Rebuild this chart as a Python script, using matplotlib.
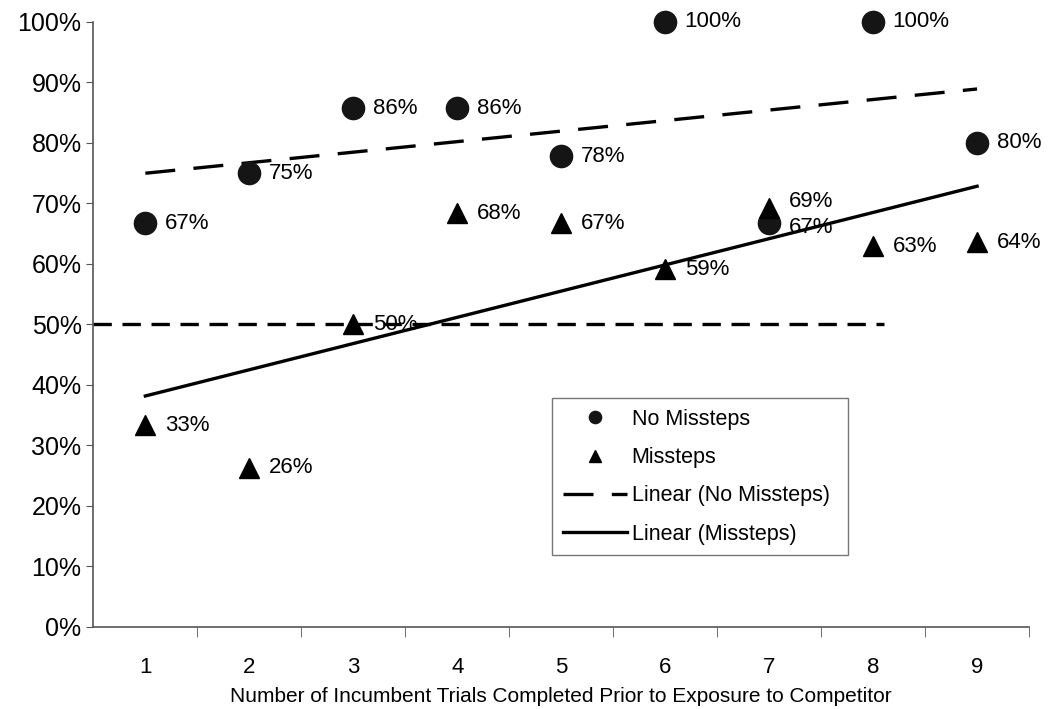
import matplotlib.pyplot as plt
import numpy as np
from matplotlib.ticker import FuncFormatter, FixedLocator

plt.rcParams['font.family'] = ['Liberation Sans', 'DejaVu Sans']

trials = [1, 2, 3, 4, 5, 6, 7, 8, 9]
no_missteps = [66.7, 75.0, 85.7, 85.7, 77.8, 100.0, 66.7, 100.0, 80.0]
missteps = [33.3, 26.3, 50.0, 68.4, 66.7, 59.1, 69.2, 62.9, 63.6]
ref_level = 50
ref_end = 8.1

fig = plt.figure(figsize=(10.49, 7.09), dpi=100)
ax = fig.add_axes([0.089, 0.116, 0.892, 0.853])

x = np.array(trials)
ax.plot(x, no_missteps, linestyle='none', marker='o', markersize=16,
        color='#151515', label='No Missteps', zorder=3, clip_on=False)
ax.plot(x, missteps, linestyle='none', marker='^', markersize=15,
        color='#000000', label='Missteps', zorder=3, clip_on=False)

# trendlines
p1 = np.polyfit(x, no_missteps, 1)
p2 = np.polyfit(x, missteps, 1)
ax.plot(x, np.polyval(p1, x), color='black', lw=2.4, dashes=(9, 5.5),
        label='Linear (No Missteps)', zorder=2)
ax.plot(x, np.polyval(p2, x), color='black', lw=2.4,
        label='Linear (Missteps)', zorder=2)

# 50% reference line
ax.plot([0.5, ref_end], [ref_level, ref_level], color='black', lw=2.4,
        dashes=(5.5, 3.2), zorder=2)

for xi, v in zip(trials, no_missteps):
    dy = -3 if xi == 7 else 0
    ax.annotate(f'{v:.0f}%', (xi, v), xytext=(14, dy), textcoords='offset points',
                va='center', ha='left', fontsize=16, annotation_clip=False)
for xi, v in zip(trials, missteps):
    dy = 5 if xi == 7 else 0
    ax.annotate(f'{v:.0f}%', (xi, v), xytext=(14, dy), textcoords='offset points',
                va='center', ha='left', fontsize=16, annotation_clip=False)

ax.set_xlim(0.5, 9.5)
ax.set_ylim(0, 100)
ax.set_yticks(np.arange(0, 101, 10))
ax.yaxis.set_major_formatter(FuncFormatter(lambda v, p: f'{v:.0f}%'))
ax.tick_params(axis='y', labelsize=18, length=5, direction='out', color='#555555')

ax.set_xticks(trials)
ax.set_xticklabels([str(t) for t in trials], fontsize=16)
ax.xaxis.set_minor_locator(FixedLocator(np.arange(1.5, 9.6, 1)))
ax.tick_params(axis='x', which='major', length=0, pad=22)
ax.tick_params(axis='x', which='minor', length=7, direction='out', color='#555555')
ax.set_xlabel('Number of Incumbent Trials Completed Prior to Exposure to Competitor',
              fontsize=15, labelpad=6)

for s in ['top', 'right']:
    ax.spines[s].set_visible(False)
for s in ['left', 'bottom']:
    ax.spines[s].set_color('#555555')
    ax.spines[s].set_linewidth(1.2)

leg = ax.legend(loc='lower left', bbox_to_anchor=(0.49, 0.118, 0.316, 0.258),
                mode='expand', fontsize=15.5, frameon=True, fancybox=False,
                edgecolor='#555555', borderpad=0.5, labelspacing=0.8,
                handlelength=3.0, handletextpad=0.2, markerscale=0.55,
                borderaxespad=0)
leg.get_frame().set_linewidth(1.0)

fig.savefig('out.png', dpi=100)
